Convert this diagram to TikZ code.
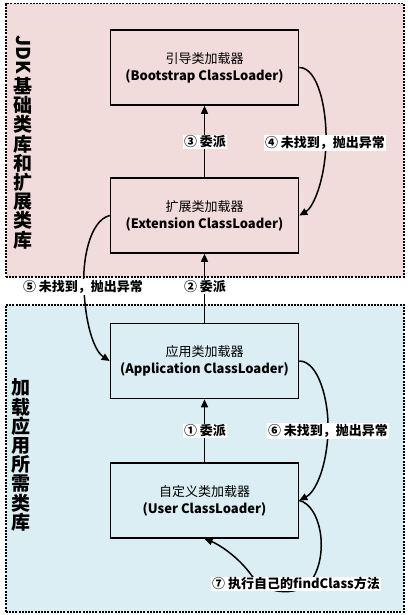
\documentclass[tikz,border=0pt]{standalone}
\usepackage{fontspec}
\setmainfont{Noto Sans CJK SC}
\usetikzlibrary{arrows.meta}
\definecolor{pinkbg}{HTML}{F2DCDB}
\definecolor{bluebg}{HTML}{DBEEF3}
\begin{document}
\begin{tikzpicture}[x=1pt,y=-1pt,
  region/.style={draw=black, line width=1.5pt, dash pattern=on 2pt off 1.2pt, anchor=north west, inner sep=0pt},
  loader/.style={draw=black, line width=1.6pt, minimum width=188pt, minimum height=75pt, align=center, inner sep=0pt, font=\fontsize{13}{17}\selectfont},
  lbl/.style={fill=white, inner sep=1pt, font=\bfseries\fontsize{13}{15}\selectfont},
  sidetxt/.style={align=center, inner sep=0pt, font=\bfseries\fontsize{19}{19.2}\selectfont},
  conn/.style={line width=1.5pt, -{Triangle[length=8pt,width=7pt]}}
]
\useasboundingbox (0,0) rectangle (407,615);
\fill[white] (0,0) rectangle (407,615);
\node[region, fill=pinkbg, minimum width=398pt, minimum height=273pt] (jdk) at (5,3) {};
\node[region, fill=bluebg, minimum width=398pt, minimum height=307pt] (appreg) at (5,304) {};

\node[sidetxt, rotate=-90, anchor=west] (jdktxt) at (23,35) {JDK};
\node[sidetxt, anchor=north] (side1) at (23,77) {基\\础\\类\\库\\和\\扩\\展\\类\\库};
\node[sidetxt] (side2) at (21,455) {加\\载\\应\\用\\所\\需\\类\\库};

\node[loader] (boot) at (204.5,67.5) {引导类加载器\\\textbf{(Bootstrap ClassLoader)}};
\node[loader] (ext) at (204.5,215.5) {扩展类加载器\\\textbf{(Extension ClassLoader)}};
\node[loader] (app) at (204.5,361) {应用类加载器\\\textbf{(Application ClassLoader)}};
\node[loader] (user) at (204.5,500.5) {自定义类加载器\\\textbf{(User ClassLoader)}};

% delegation arrows
\draw[conn] (ext.north) -- (boot.south);
\draw[conn] (app.north) -- (ext.south);
\draw[conn] (user.north) -- (app.south);

% not found curves
\coordinate (m4) at (326,143);
\draw[conn] (boot.east) .. controls +(19,0) and +(1,-33) .. (m4) .. controls +(-1,37) and +(14,-8) .. (ext.east);
\coordinate (m5) at (84,290);
\draw[conn] (ext.west) .. controls +(-20,5) and +(-2,-30) .. (m5) .. controls +(2,40) and +(-14,-9) .. (app.west);
\coordinate (m6) at (328,431);
\draw[conn] (app.east) .. controls +(19,0) and +(1,-31) .. (m6) .. controls +(-1,34) and +(17,-9) .. (user.east);
\coordinate (m7a) at (313,578);
\coordinate (m7b) at (252,576);
\draw[conn] (user.east) .. controls +(21,5) and +(16,-27) .. (m7a) .. controls +(-12,20) and +(13,19) .. (m7b) .. controls +(-14,-20) and +(13,5) .. (user.south);

% labels
\node[lbl] (l3) at (205,142) {③ 委派};
\node[lbl] (l2) at (205,287) {② 委派};
\node[lbl] (l1) at (205,431) {① 委派};
\node[lbl] (l4) at (325,143) {④ 未找到，抛出异常};
\node[lbl] (l5) at (83,287) {⑤ 未找到，抛出异常};
\node[lbl] (l6) at (328,431) {⑥ 未找到，抛出异常};
\node[lbl] (l7) at (296,584) {⑦ 执行自己的findClass方法};
\end{tikzpicture}
\end{document}
